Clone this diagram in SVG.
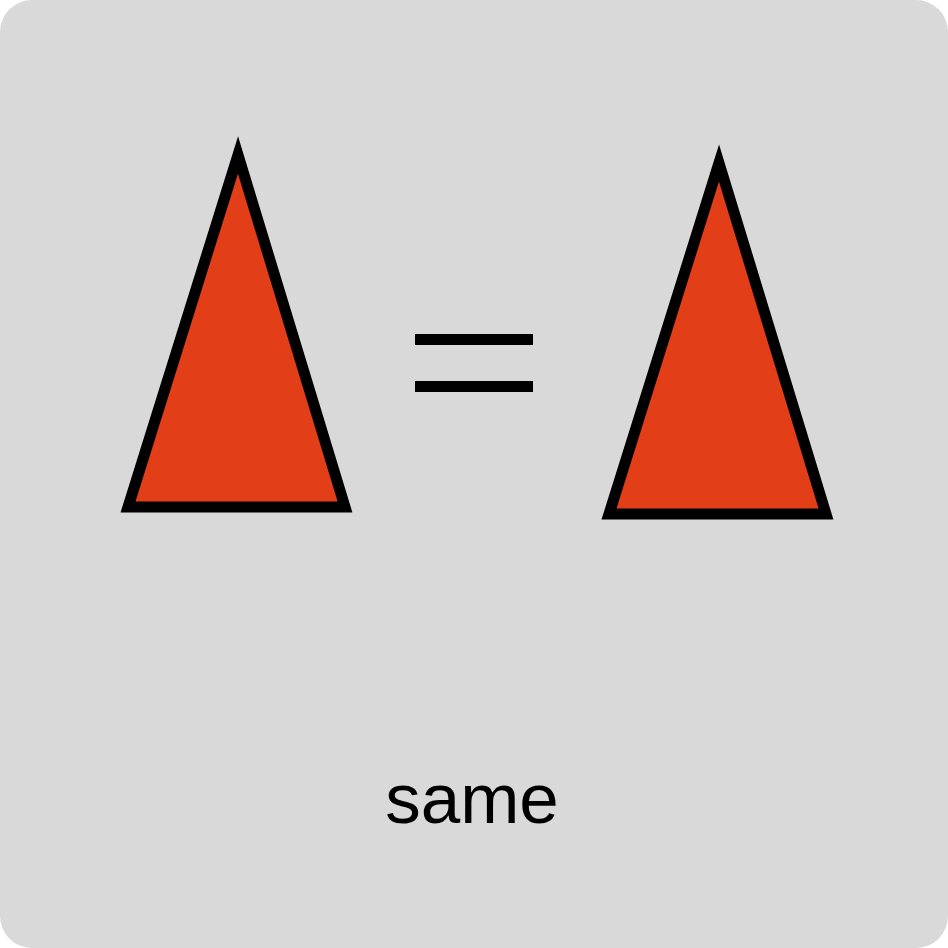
<svg xmlns="http://www.w3.org/2000/svg" width="948" height="948" viewBox="0 0 948 948">
<style>
.tri{fill:#e23e17;stroke:#000;stroke-width:11;stroke-linejoin:miter;stroke-miterlimit:10}
.bar{fill:#000}
.lbl{font-family:"Liberation Sans",Arial,sans-serif;font-size:71px;fill:#000;text-anchor:middle}
</style>
<rect x="0" y="0" width="948" height="948" fill="#fff"/>
<rect x="0" y="0" width="948" height="948" rx="32" ry="32" fill="#d9d9d9"/>
<g id="triangle-left"><polygon class="tri" points="238,155 128,507 345,507"/></g>
<g id="equals"><rect class="bar" x="415" y="334" width="118" height="11"/><rect class="bar" x="415" y="381" width="118" height="11"/></g>
<g id="triangle-right"><polygon class="tri" points="719,163 609,514 826,514"/></g>
<g id="label"><text class="lbl" x="472" y="823">same</text></g>
</svg>
